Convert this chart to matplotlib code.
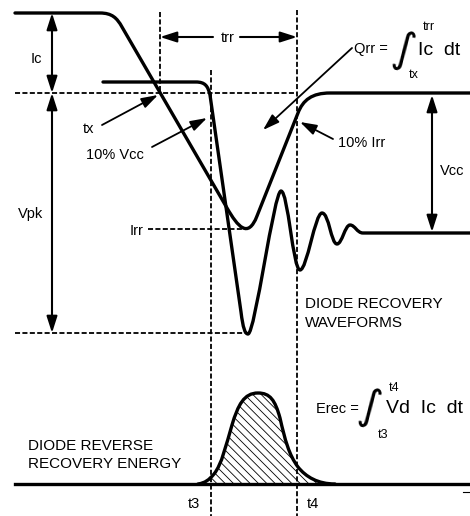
import matplotlib
matplotlib.use("Agg")
import matplotlib.pyplot as plt
from matplotlib.path import Path
from matplotlib.patches import PathPatch, FancyArrowPatch, Rectangle

plt.rcParams['font.family'] = ['Liberation Sans', 'DejaVu Sans']
plt.rcParams['hatch.linewidth'] = 0.6
plt.rcParams['hatch.color'] = 'black'

# ---- waveform data (diagram units: x = time, y = level, downward positive) ----
current_wave = [("M", (15, 13)), ("L", (100, 13)),
                ("C", (112, 13), (117, 18), (122, 27)),
                ("L", (227, 208)),
                ("C", (238, 227), (248, 239), (257, 216)),
                ("L", (298, 113)),
                ("C", (303, 100), (312, 93), (330, 93)),
                ("L", (470, 93))]

voltage_wave = [("M", (103, 82)), ("L", (196, 82)),
                ("C", (205, 82), (208, 86), (210, 95)),
                ("L", (241, 312)),
                ("C", (243, 328), (245, 334), (248, 334)),
                ("C", (255, 334), (274, 191), (281, 191)),
                ("C", (288, 191), (293, 270), (300, 270)),
                ("C", (307, 270), (315, 213), (322, 213)),
                ("C", (329, 213), (331, 244), (337, 244)),
                ("C", (342, 244), (345, 225), (350, 225)),
                ("C", (355, 225), (357, 233), (363, 233)),
                ("L", (470, 233))]

energy_wave = [("M", (198, 484)),
               ("C", (205, 483), (209, 480), (214, 474)),
               ("C", (222, 464), (226, 445), (232, 425)),
               ("C", (238, 405), (244, 393), (258, 393)),
               ("C", (270, 393), (275, 400), (280, 418)),
               ("C", (285, 440), (289, 455), (298, 467)),
               ("C", (306, 477), (318, 484), (335, 484))]

baseline_y = 484
t3_x, t4_x, tx_x = 211, 297, 160
level_ic, level_irr, level_vpk = 13, 229, 333
level_zero, level_vcc = 93, 233


def build(segs, close_to=None):
    verts, codes = [], []
    for s in segs:
        kind, pts = s[0], s[1:]
        if kind == "M":
            verts.append(pts[0]); codes.append(Path.MOVETO)
        elif kind == "L":
            verts.append(pts[0]); codes.append(Path.LINETO)
        else:
            verts.extend(pts); codes.extend([Path.CURVE4] * 3)
    if close_to is not None:
        verts.append((verts[-1][0], close_to)); codes.append(Path.LINETO)
        verts.append((verts[0][0], close_to)); codes.append(Path.LINETO)
        verts.append(verts[0]); codes.append(Path.CLOSEPOLY)
    return Path(verts, codes)


fig = plt.figure(figsize=(4.7, 5.16), dpi=100)
ax = fig.add_axes([0, 0, 1, 1])
ax.set_xlim(0, 470)
ax.set_ylim(516, 0)
ax.axis("off")

LW = 2.4
DASH = dict(color="black", lw=1.3, linestyle=(0, (2.8, 1.3)))

# dashed reference lines
ax.plot([15, t4_x], [level_zero, level_zero], **DASH)
ax.plot([tx_x, tx_x], [12, level_zero], **DASH)
ax.plot([t3_x, t3_x], [70, 516], **DASH)
ax.plot([t4_x, t4_x], [10, 516], **DASH)
ax.plot([148, 245], [level_irr, level_irr], **DASH)
ax.plot([15, 247], [level_vpk, level_vpk], **DASH)

# hatched energy area (from t3 on)
hatch = PathPatch(build(energy_wave, close_to=baseline_y), facecolor="none",
                  edgecolor="black", lw=0, hatch="\\\\\\\\")
ax.add_patch(hatch)
hatch.set_clip_path(Rectangle((t3_x, 0), 470 - t3_x, 516, transform=ax.transData))

# waveforms
for w in (current_wave, voltage_wave, energy_wave):
    ax.add_patch(PathPatch(build(w), facecolor="none", edgecolor="black",
                           lw=LW, capstyle="round", joinstyle="round"))
ax.plot([15, 470], [baseline_y, baseline_y], color="black", lw=LW)
ax.plot([463, 470], [492, 492], color="black", lw=0.8)


def arrow(p0, p1, style="-|>", lw=1.5):
    a = FancyArrowPatch(p0, p1, arrowstyle=f"{style},head_length=1.0,head_width=0.32",
                        mutation_scale=10, lw=lw, color="black",
                        shrinkA=0, shrinkB=0)
    ax.add_patch(a)


arrow((52, level_ic), (52, level_zero), "<|-|>")
arrow((52, level_zero), (52, level_vpk), "<|-|>")
arrow((432, 95), (432, level_vcc - 1), "<|-|>")
arrow((213, 37), (tx_x, 37))
arrow((240, 37), (t4_x, 37))
arrow((102, 125), (158, 95), lw=1.3)
arrow((152, 147), (207, 118), lw=1.3)
arrow((352, 48), (263, 130), lw=1.3)
arrow((333, 139), (300, 122), lw=1.3)

FS = 10.5
def txt(x, y, s, size=FS, ha="left"):
    ax.text(x, y, s, fontsize=size, ha=ha, va="baseline", color="black")

txt(36, 63, "Ic", ha="center")
txt(31, 218, "Vpk", ha="center")
txt(89, 133, "tx", ha="center")
txt(115, 159, "10% Vcc", ha="center")
txt(137, 235, "Irr", ha="center")
txt(228, 42, "trr", ha="center")
txt(362, 147, "10% Irr", ha="center")
txt(452, 175, "Vcc", ha="center")

txt(371, 53, "Qrr =", ha="center")
ax.text(404, 51, "∫", fontsize=30, ha="center", va="center",
        family=["DejaVu Sans"], rotation=-12)
txt(423, 30, "trr", size=9)
txt(409, 78, "tx", size=9)
txt(418, 55, "Ic  dt", size=14)

txt(305, 308, "DIODE RECOVERY", size=11)
txt(305, 327, "WAVEFORMS", size=11)
txt(28, 450, "DIODE REVERSE", size=11)
txt(28, 468, "RECOVERY ENERGY", size=11)

txt(337, 413, "Erec =", ha="center")
ax.text(370, 408, "∫", fontsize=30, ha="center", va="center",
        family=["DejaVu Sans"], rotation=-12)
txt(389, 391, "t4", size=9)
txt(378, 438, "t3", size=9)
txt(386, 413, "Vd  Ic  dt", size=14)

txt(194, 508, "t3", ha="center")
txt(313, 508, "t4", ha="center")

fig.savefig("out.png", dpi=100)
